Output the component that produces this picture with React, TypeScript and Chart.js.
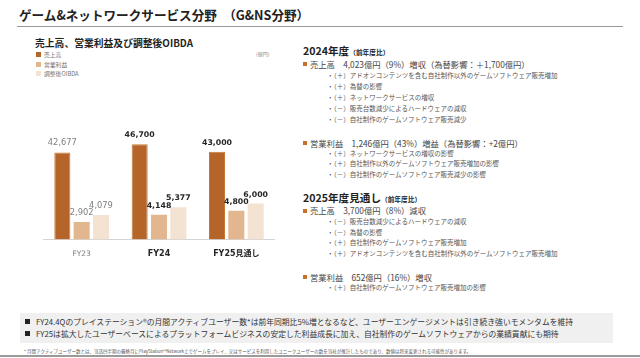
import React, { useEffect, useRef } from "react";
import { Chart, registerables } from "chart.js";

Chart.register(...registerables);

const categories = ["FY23", "FY24", "FY25見通し"];
const salesValues = [42677, 46700, 43000];
const profitValues = [2902, 4148, 4800];
const oibdaValues = [4079, 5377, 6000];
const seriesNames = ["売上高", "営業利益", "調整後OIBDA"];
const seriesColors = ["#B5652A", "#E2B790", "#F4E2D2"];

const JP = '"Noto Sans CJK JP", "Noto Sans", sans-serif';
const NUM = '"DejaVu Sans", "Noto Sans CJK JP", sans-serif';

type Line = { y: number; x: number; text: string; kind: "h" | "m" | "s"; sub?: string };

const rightLines: Line[] = [
  { y: 48, x: 303, text: "2024年度", sub: "（前年度比）", kind: "h" },
  { y: 64, x: 303, text: "売上高　4,023億円（9%）増収（為替影響：＋1,700億円）", kind: "m" },
  { y: 75, x: 327, text: "・（＋）アドオンコンテンツを含む自社制作以外のゲームソフトウェア販売増加", kind: "s" },
  { y: 86, x: 327, text: "・（＋）為替の影響", kind: "s" },
  { y: 97, x: 327, text: "・（＋）ネットワークサービスの増収", kind: "s" },
  { y: 108, x: 327, text: "・（－）販売台数減少によるハードウェアの減収", kind: "s" },
  { y: 119, x: 327, text: "・（－）自社制作のゲームソフトウェア販売減少", kind: "s" },
  { y: 143, x: 303, text: "営業利益　1,246億円（43%）増益（為替影響：+2億円）", kind: "m" },
  { y: 153, x: 327, text: "・（＋）ネットワークサービスの増収の影響", kind: "s" },
  { y: 163.5, x: 327, text: "・（＋）自社制作以外のゲームソフトウェア販売増加の影響", kind: "s" },
  { y: 174, x: 327, text: "・（－）自社制作のゲームソフトウェア販売減少の影響", kind: "s" },
  { y: 195, x: 303, text: "2025年度見通し", sub: "（前年度比）", kind: "h" },
  { y: 210.5, x: 303, text: "売上高　3,700億円（8%）減収", kind: "m" },
  { y: 221.5, x: 327, text: "・（－）販売台数減少によるハードウェアの減収", kind: "s" },
  { y: 232, x: 327, text: "・（－）為替の影響", kind: "s" },
  { y: 242.5, x: 327, text: "・（＋）自社制作のゲームソフトウェア販売増加", kind: "s" },
  { y: 253, x: 327, text: "・（＋）アドオンコンテンツを含む自社制作以外のゲームソフトウェア販売増加", kind: "s" },
  { y: 277, x: 303, text: "営業利益　652億円（16%）増収", kind: "m" },
  { y: 287.5, x: 327, text: "・（＋）自社制作のゲームソフトウェア販売増加の影響", kind: "s" },
];

const labelPlugin = {
  id: "valueLabels",
  afterDatasetsDraw(chart: any) {
    const ctx = chart.ctx;
    ctx.save();
    ctx.textAlign = "center";
    ctx.textBaseline = "bottom";
    chart.data.datasets.forEach((ds: any, di: number) => {
      const meta = chart.getDatasetMeta(di);
      meta.data.forEach((el: any, i: number) => {
        const v = ds.data[i] as number;
        if (i === 0) {
          ctx.font = `normal 8.3px ${NUM}`;
          ctx.fillStyle = "#808080";
        } else {
          ctx.font = `bold 7.8px ${NUM}`;
          ctx.fillStyle = "#262626";
        }
        ctx.fillText(v.toLocaleString("en-US"), el.x, el.y - 5);
      });
    });
    ctx.restore();
  },
};

function BarChart() {
  const ref = useRef<HTMLCanvasElement | null>(null);
  useEffect(() => {
    if (!ref.current) return;
    const chart = new Chart(ref.current, {
      type: "bar",
      data: {
        labels: categories,
        datasets: [
          { label: seriesNames[0], data: salesValues, backgroundColor: seriesColors[0], borderColor: "#C77A35", borderWidth: 1, yAxisID: "y" },
          { label: seriesNames[1], data: profitValues, backgroundColor: seriesColors[1], yAxisID: "y1" },
          { label: seriesNames[2], data: oibdaValues, backgroundColor: seriesColors[2], yAxisID: "y1" },
        ],
      },
      options: {
        animation: false,
        responsive: false,
        maintainAspectRatio: false,
        layout: { padding: 0 },
        plugins: { legend: { display: false }, tooltip: { enabled: false } },
        datasets: { bar: { categoryPercentage: 0.75, barPercentage: 0.83 } },
        scales: {
          x: {
            grid: { display: false, drawTicks: false },
            border: { display: true, color: "#d4d4d4", width: 1 },
            ticks: {
              padding: 10,
              color: (c: any) => (c.index === 0 ? "#808080" : "#262626"),
              font: (c: any) =>
                c.index === 0
                  ? { family: NUM, size: 7.5, weight: "normal" }
                  : { family: NUM, size: 8, weight: "bold" },
            },
          },
          y: { display: false, min: 0, max: 63500 },
          y1: { display: false, min: 0, max: 21700, position: "right" },
        },
      },
      plugins: [labelPlugin],
    } as any);
    return () => chart.destroy();
  }, []);
  return (
    <canvas
      ref={ref}
      width={232}
      height={159}
      style={{ position: "absolute", left: 43, top: 110, width: 232, height: 159 }}
    />
  );
}

export default function App() {
  const abs = (o: React.CSSProperties): React.CSSProperties => ({ position: "absolute", whiteSpace: "nowrap", ...o });
  return (
    <div style={{ position: "absolute", left: 0, top: 0, width: 640, height: 358, background: "#fff", overflow: "hidden", fontFamily: JP }}>
      {/* Title */}
      <div style={abs({ left: 19, top: 6, fontSize: 12.6, fontWeight: 700, color: "#222", lineHeight: "18px" })}>
        ゲーム&ネットワークサービス分野　（G&NS分野）
      </div>
      <div style={abs({ left: 17, top: 26, width: 606, height: 1, background: "#9a9a9a" })} />

      {/* Chart subtitle */}
      <div style={abs({ left: 35, top: 36, fontSize: 9.8, fontWeight: 700, color: "#222", lineHeight: "14px" })}>
        売上高、営業利益及び調整後OIBDA
      </div>
      <div style={abs({ left: 256, top: 50, fontSize: 5, color: "#888", lineHeight: "7px" })}>(億円)</div>

      {/* Legend */}
      {seriesNames.map((n, i) => (
        <div key={n} style={abs({ left: 36, top: 51 + i * 9.5, height: 7, display: "flex", alignItems: "center" })}>
          <span style={{ display: "inline-block", width: 5, height: 5, background: seriesColors[i], marginRight: 3 }} />
          <span style={{ fontSize: 5.8, color: "#777", lineHeight: "7px" }}>{n}</span>
        </div>
      ))}

      <BarChart />

      {/* Right text */}
      {rightLines.map((l, i) => {
        if (l.kind === "h") {
          return (
            <div key={i} style={abs({ left: l.x, top: l.y - 6.5, lineHeight: "13px", fontWeight: 700, color: "#222" })}>
              <span style={{ fontSize: 10.6 }}>{l.text}</span>
              <span style={{ fontSize: 6.7 }}>{l.sub}</span>
            </div>
          );
        }
        if (l.kind === "m") {
          return (
            <div key={i} style={abs({ left: l.x, top: l.y - 5.5, lineHeight: "11px", fontSize: 8.3, color: "#444", display: "flex", alignItems: "center" })}>
              <span style={{ display: "inline-block", width: 4, height: 4, background: "#C8702A", marginRight: 3 }} />
              <span>{l.text}</span>
            </div>
          );
        }
        return (
          <div key={i} style={abs({ left: l.x, top: l.y - 4.5, lineHeight: "9px", fontSize: 6.5, color: "#555" })}>
            {l.text}
          </div>
        );
      })}

      {/* Bottom box */}
      <div style={abs({ left: 20, top: 313, width: 593, height: 30, background: "#f0f0f0" })} />
      {[
        "FY24.4Qのプレイステーション®の月間アクティブユーザー数*は前年同期比5%増となるなど、ユーザーエンゲージメントは引き続き強いモメンタムを維持",
        "FY25は拡大したユーザーベースによるプラットフォームビジネスの安定した利益成長に加え、自社制作のゲームソフトウェアからの業績貢献にも期待",
      ].map((t, i) => (
        <div key={i} style={abs({ left: 25, top: 316 + i * 11.5, lineHeight: "11px", fontSize: 7.8, color: "#333", display: "flex", alignItems: "center" })}>
          <span style={{ display: "inline-block", width: 5, height: 5, background: "#222", marginRight: 6 }} />
          <span>{t}</span>
        </div>
      ))}
      <div style={abs({ left: 24, top: 348, lineHeight: "7px", fontSize: 4.5, color: "#555" })}>
        * 月間アクティブユーザー数とは、当該四半期の最終月にPlayStation™Network上でゲームをプレイ、又はサービスを利用したユニークユーザーの数を当社が推計したものであり、数値は将来変更される可能性があります。
      </div>
      <div style={abs({ left: 0, top: 355, width: 640, height: 2, background: "#9a9a9a" })} />
    </div>
  );
}
